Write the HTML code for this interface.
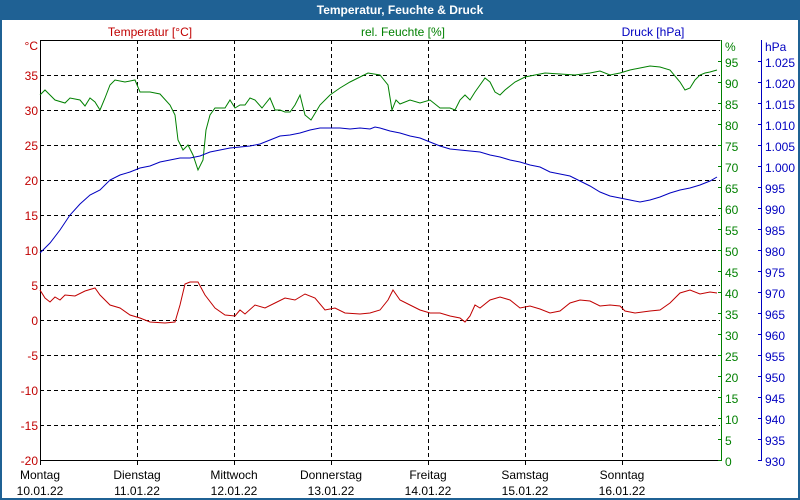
<!DOCTYPE html>
<html><head><meta charset="utf-8"><style>
html,body{margin:0;padding:0;background:#fff}
svg{display:block;font-family:"Liberation Sans",sans-serif}
</style></head><body>
<svg width="800" height="500" xmlns="http://www.w3.org/2000/svg">
<rect x="0" y="0" width="800" height="500" fill="#1f6194"/>
<rect x="2" y="20" width="796" height="478" fill="#fff"/>
<text x="400" y="14" fill="#fff" font-size="12" font-weight="bold" text-anchor="middle">Temperatur, Feuchte &amp; Druck</text>
<text x="150" y="36" fill="#c00000" font-size="12" text-anchor="middle">Temperatur [°C]</text>
<text x="403" y="36" fill="#008000" font-size="12" text-anchor="middle">rel. Feuchte [%]</text>
<text x="653" y="36" fill="#0000c0" font-size="12" text-anchor="middle">Druck [hPa]</text>
<g stroke="#000" stroke-width="1" stroke-dasharray="4,3" fill="none">
<path d="M40 75.5H720M40 110.5H720M40 145.5H720M40 180.5H720M40 215.5H720M40 250.5H720M40 285.5H720M40 320.5H720M40 355.5H720M40 390.5H720M40 425.5H720"/>
<path d="M137.5 40V461M234.5 40V461M331.5 40V461M428.5 40V461M525.5 40V461M622.5 40V461"/>
</g>
<path d="M40.5 40.5H720.5M40.5 40V461M40 460.5H720" stroke="#000" fill="none"/>
<path d="M137.5 461v4M234.5 461v4M331.5 461v4M428.5 461v4M525.5 461v4M622.5 461v4M40.5 461v4" stroke="#000"/>
<g fill="#c00000" font-size="12" text-anchor="end">
<text x="38" y="50">°C</text>
<text x="38" y="80">35</text><text x="38" y="115">30</text><text x="38" y="150">25</text><text x="38" y="185">20</text><text x="38" y="220">15</text><text x="38" y="255">10</text><text x="38" y="290">5</text><text x="38" y="325">0</text><text x="38" y="360">-5</text><text x="38" y="395">-10</text><text x="38" y="430">-15</text><text x="38" y="465">-20</text>
</g>
<path d="M721.5 40V461" stroke="#008000"/>
<path d="M761.5 40V461" stroke="#0000c0"/>
<g id="tk"></g>
<g fill="#008000" font-size="12">
<text x="725" y="51">%</text>
<text x="725" y="67">95</text><text x="725" y="88">90</text><text x="725" y="109">85</text><text x="725" y="130">80</text><text x="725" y="151">75</text><text x="725" y="172">70</text><text x="725" y="193">65</text><text x="725" y="214">60</text><text x="725" y="235">55</text><text x="725" y="256">50</text><text x="725" y="277">45</text><text x="725" y="298">40</text><text x="725" y="319">35</text><text x="725" y="340">30</text><text x="725" y="361">25</text><text x="725" y="382">20</text><text x="725" y="403">15</text><text x="725" y="424">10</text><text x="725" y="445">5</text><text x="725" y="466">0</text>
</g>
<g fill="#0000c0" font-size="12">
<text x="765" y="51">hPa</text>
<text x="765" y="67">1.025</text><text x="765" y="88">1.020</text><text x="765" y="109">1.015</text><text x="765" y="130">1.010</text><text x="765" y="151">1.005</text><text x="765" y="172">1.000</text><text x="765" y="193">995</text><text x="765" y="214">990</text><text x="765" y="235">985</text><text x="765" y="256">980</text><text x="765" y="277">975</text><text x="765" y="298">970</text><text x="765" y="319">965</text><text x="765" y="340">960</text><text x="765" y="361">955</text><text x="765" y="382">950</text><text x="765" y="403">945</text><text x="765" y="424">940</text><text x="765" y="445">935</text><text x="765" y="466">930</text>
</g>
<path stroke="#008000" d="M721 61.5h-3M721 82.5h-3M721 103.5h-3M721 124.5h-3M721 145.5h-3M721 166.5h-3M721 187.5h-3M721 208.5h-3M721 229.5h-3M721 250.5h-3M721 271.5h-3M721 292.5h-3M721 313.5h-3M721 334.5h-3M721 355.5h-3M721 376.5h-3M721 397.5h-3M721 418.5h-3M721 439.5h-3M721 460.5h-3"/>
<path stroke="#0000c0" d="M761 61.5h-3M761 82.5h-3M761 103.5h-3M761 124.5h-3M761 145.5h-3M761 166.5h-3M761 187.5h-3M761 208.5h-3M761 229.5h-3M761 250.5h-3M761 271.5h-3M761 292.5h-3M761 313.5h-3M761 334.5h-3M761 355.5h-3M761 376.5h-3M761 397.5h-3M761 418.5h-3M761 439.5h-3M761 460.5h-3"/>
<g font-size="12" fill="#000" text-anchor="middle">
<text x="40" y="479">Montag</text><text x="40" y="495">10.01.22</text>
<text x="137" y="479">Dienstag</text><text x="137" y="495">11.01.22</text>
<text x="234" y="479">Mittwoch</text><text x="234" y="495">12.01.22</text>
<text x="331" y="479">Donnerstag</text><text x="331" y="495">13.01.22</text>
<text x="428" y="479">Freitag</text><text x="428" y="495">14.01.22</text>
<text x="525" y="479">Samstag</text><text x="525" y="495">15.01.22</text>
<text x="622" y="479">Sonntag</text><text x="622" y="495">16.01.22</text>
</g>
<polyline fill="none" stroke="#c00000" points="40,290 45,298 50,302 55,297 60,300 65,295 75,296 85,291 95,288 100,295 110,305 120,308 130,315 140,318 150,322 165,323 175,322 180,305 185,284 190,282 198,282 205,295 215,308 225,315 235,316 240,310 245,314 255,305 265,308 275,303 285,298 295,300 305,294 315,298 325,310 335,308 345,313 360,314 370,313 380,310 388,300 393,290 400,300 410,305 420,310 430,313 440,313 450,316 460,318 465,322 470,316 475,305 480,308 490,300 500,297 510,300 520,308 530,306 540,309 550,313 560,311 570,303 580,300 590,301 600,306 610,305 620,306 625,311 635,313 650,311 660,310 670,303 680,293 690,290 700,294 710,292 717,293"/>
<polyline fill="none" stroke="#008000" points="40,95 45,90 50,95 55,100 65,103 70,98 80,100 85,106 90,98 95,102 100,110 105,98 110,85 115,80 125,82 135,80 140,92 150,92 160,94 170,105 175,115 178,140 183,150 188,145 193,155 198,170 203,160 206,130 210,115 215,108 225,108 230,100 235,108 240,105 245,105 250,98 255,100 262,108 270,98 275,110 280,110 285,112 290,112 295,105 300,95 305,115 311,120 320,105 330,95 340,88 350,82 360,77 368,73 380,75 388,85 392,110 396,100 400,104 410,100 420,103 430,100 440,108 450,108 455,110 460,100 465,95 470,100 475,92 480,85 485,78 490,82 495,92 500,95 505,90 515,82 525,77 535,75 545,73 560,74 575,75 590,73 600,71 610,75 620,73 630,70 640,68 650,66 660,67 670,70 680,82 685,90 690,88 695,80 700,75 705,73 710,72 717,70"/>
<polyline fill="none" stroke="#0000c0" points="40,253 50,243 60,230 70,215 80,204 90,195 100,190 110,180 120,175 130,172 140,168 150,166 160,162 170,160 180,158 190,158 200,156 210,152 220,150 230,148 240,147 250,146 260,144 270,140 280,136 290,135 300,133 310,130 320,128 330,128 340,128 350,129 360,128 370,129 375,127 380,128 390,131 400,133 410,136 420,138 430,142 440,146 450,149 460,150 470,151 480,152 490,155 500,157 510,160 520,162 530,165 540,167 550,172 560,174 570,176 580,181 590,186 600,192 610,196 620,198 630,200 640,202 650,200 660,197 670,193 680,190 690,188 700,185 710,181 717,177"/>
</svg>
</body></html>
